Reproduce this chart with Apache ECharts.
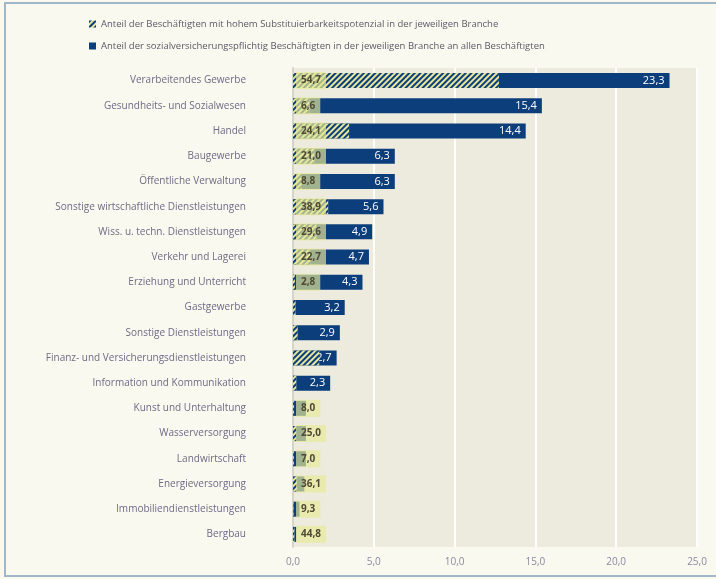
<!DOCTYPE html>
<html><head><meta charset="utf-8">
<script src="https://cdn.jsdelivr.net/npm/echarts@6/dist/echarts.min.js"></script>
<style>html,body{margin:0;padding:0;background:#f9f9ef;}#c{width:716px;height:579px;}</style>
</head><body><div id="c"></div>
<script>
const categories = ['Verarbeitendes Gewerbe','Gesundheits- und Sozialwesen','Handel','Baugewerbe','Öffentliche Verwaltung','Sonstige wirtschaftliche Dienstleistungen','Wiss. u. techn. Dienstleistungen','Verkehr und Lagerei','Erziehung und Unterricht','Gastgewerbe','Sonstige Dienstleistungen','Finanz- und Versicherungsdienstleistungen','Information und Kommunikation','Kunst und Unterhaltung','Wasserversorgung','Landwirtschaft','Energieversorgung','Immobiliendienstleistungen','Bergbau'];
// share of all employees (%)
const shareEmployees = [23.3,15.4,14.4,6.3,6.3,5.6,4.9,4.7,4.3,3.2,2.9,2.7,2.3,0.8,0.8,0.8,0.7,0.4,0.2];
// share with high substitution potential within branch (%)
const shareHighPotential = [54.7,6.6,24.1,21.0,8.8,38.9,29.6,22.7,2.8,5,10,60,9,8.0,25.0,7.0,36.1,9.3,44.8];
// which percentages are printed
const showPctLabel = [1,1,1,1,1,1,1,1,1,0,0,0,0,1,1,1,1,1,1];
// which employee shares are printed
const showShareLabel = [1,1,1,1,1,1,1,1,1,1,1,1,1,0,0,0,0,0,0];
const xTicks = [0,5,10,15,20,25];

const nameHatch = 'Anteil der Beschäftigten mit hohem Substituierbarkeitspotenzial in der jeweiligen Branche';
const nameBlue = 'Anteil der sozialversicherungspflichtig Beschäftigten in der jeweiligen Branche an allen Beschäftigten';
const fmt = v => v.toFixed(1).replace('.', ',');

const chart = echarts.init(document.getElementById('c'), null, {renderer:'canvas'});
const FONT = 'Open Sans';
chart.setOption({
  backgroundColor: '#f9f9ef',
  animation: false,
  textStyle: {fontFamily: FONT},
  graphic: [{type:'rect', shape:{x:5, y:3, width:730, height:573}, style:{fill:'none', stroke:'#a3b7cb', lineWidth:2}, silent:true}],
  legend: {
    orient: 'vertical', left: 84, top: 14, itemGap: 12, itemWidth: 7, itemHeight: 7,
    icon: 'rect',
    data: [nameHatch, nameBlue],
    textStyle: {fontSize: 9.5, color: '#5a5a66', fontFamily: FONT}
  },
  grid: {left: 293, right: 19, top: 68, bottom: 32, show: true, backgroundColor: '#edebdd', borderWidth: 0},
  xAxis: {
    type: 'value', min: xTicks[0], max: xTicks[xTicks.length-1], interval: 5,
    axisLine: {show:false}, axisTick: {show:false},
    splitLine: {show:true, lineStyle:{color:'#ffffff', width:2}},
    axisLabel: {formatter: v => fmt(v), color:'#8a8aa2', fontSize:10, margin:10, fontFamily: FONT}
  },
  yAxis: {
    type: 'category', data: categories, inverse: true,
    axisTick: {show:false},
    axisLine: {show:true, lineStyle:{color:'#d6d5c8', width:2}},
    axisLabel: {color:'#706a86', fontSize:10, margin:47, fontFamily: FONT}
  },
  series: [
    {
      name: nameBlue, type: 'bar', barWidth: 15, z: 2,
      itemStyle: {color: '#0d3e7c'},
      data: shareEmployees.map((v,i) => ({
        value: v,
        label: {show: !!showShareLabel[i]}
      })),
      label: {position:'insideRight', distance:5, color:'#ffffff', fontSize:11, formatter: p => fmt(p.value), fontFamily: FONT}
    },
    {
      name: nameHatch, type: 'bar', barWidth: 15, barGap: '-100%', z: 3,
      itemStyle: {
        color: '#e6e69c',
        decal: {symbol:'rect', symbolSize:1, color:'#0d3e7c', dashArrayX:[1,0], dashArrayY:[2,1.4], rotation: -Math.PI/4}
      },
      data: shareEmployees.map((v,i) => ({
        value: v * shareHighPotential[i] / 100,
        label: {show: !!showPctLabel[i], formatter: fmt(shareHighPotential[i])}
      })),
      label: {position:'insideLeft', distance:3, color:'#4f4834', fontSize:10, fontWeight:'bold', fontFamily: FONT,
              backgroundColor:'rgba(232,233,150,0.68)', padding:[3,5,2,5], lineHeight:12}
    }
  ]
});
</script></body></html>
